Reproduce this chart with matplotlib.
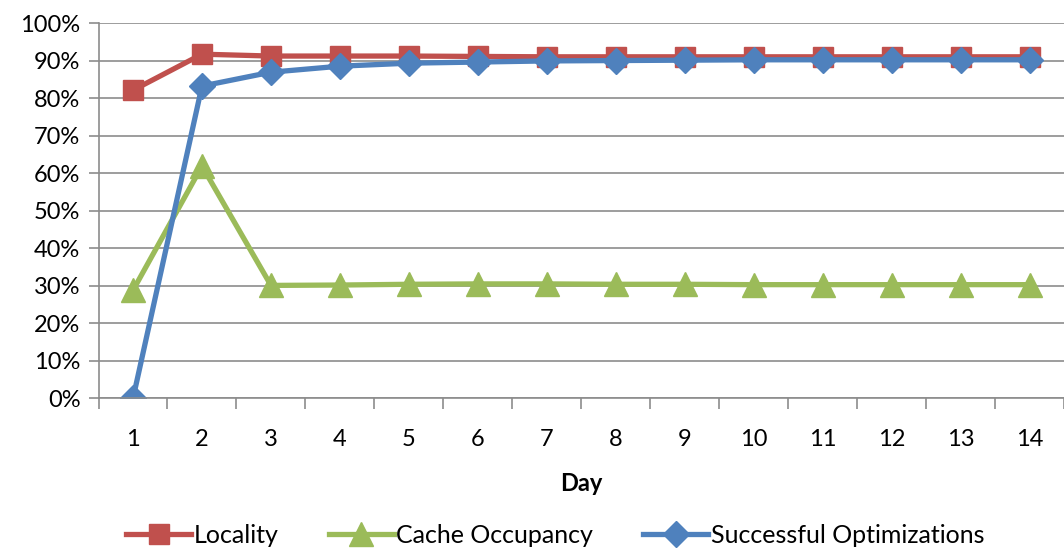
import numpy as np
import matplotlib.pyplot as plt
from matplotlib.ticker import FixedLocator, PercentFormatter

plt.rcParams['font.family'] = ['Lato', 'DejaVu Sans']

days = list(range(1, 15))
locality = [82.1, 91.7, 91.2, 91.2, 91.2, 91.1, 91.0, 91.0, 91.0, 91.0, 91.0, 91.0, 91.0, 91.0]
cache_occupancy = [28.8, 61.9, 30.1, 30.2, 30.4, 30.5, 30.5, 30.4, 30.4, 30.3, 30.3, 30.3, 30.3, 30.3]
successful_opt = [0.0, 83.2, 86.9, 88.5, 89.3, 89.6, 89.9, 90.0, 90.1, 90.2, 90.2, 90.2, 90.2, 90.2]

fig, ax = plt.subplots(figsize=(10.64, 5.48), dpi=100)
fig.subplots_adjust(left=0.0926, right=1.0, top=0.958, bottom=0.273)

grid_c = '#8c8c8c'
ax.plot(days, locality, color='#c0504d', lw=3.8, marker='s', ms=15, label='Locality')
ax.plot(days, cache_occupancy, color='#9bbb59', lw=3.8, marker='^', ms=17, label='Cache Occupancy')
ax.plot(days, successful_opt, color='#4f81bd', lw=3.8, marker='D', ms=13, label='Successful Optimizations')

ax.set_xlim(0.5, 14.5)
ax.set_ylim(0, 100)
ax.set_yticks(np.arange(0, 101, 10))
ax.yaxis.set_major_formatter(PercentFormatter(decimals=0))
ax.set_xticks(days)
ax.xaxis.set_minor_locator(FixedLocator(np.arange(0.5, 15, 1)))
ax.tick_params(axis='x', which='major', length=0, pad=22, labelsize=17)
ax.tick_params(axis='x', which='minor', length=8, color=grid_c, width=1.2)
ax.tick_params(axis='y', length=7, color=grid_c, width=1.2, labelsize=17, pad=6)

ax.grid(axis='y', color=grid_c, lw=1.2)
ax.set_axisbelow(True)
for s in ['top', 'right']:
    ax.spines[s].set_visible(False)
for s in ['left', 'bottom']:
    ax.spines[s].set_color(grid_c)
    ax.spines[s].set_linewidth(1.2)

ax.set_xlabel('Day', fontsize=17, fontweight='bold', labelpad=16)
ax.legend(loc='center', bbox_to_anchor=(0.473, -0.365), ncol=3, frameon=False,
          fontsize=18, handlelength=2.6, handletextpad=0.1, columnspacing=2.0)

fig.savefig('out.png')
